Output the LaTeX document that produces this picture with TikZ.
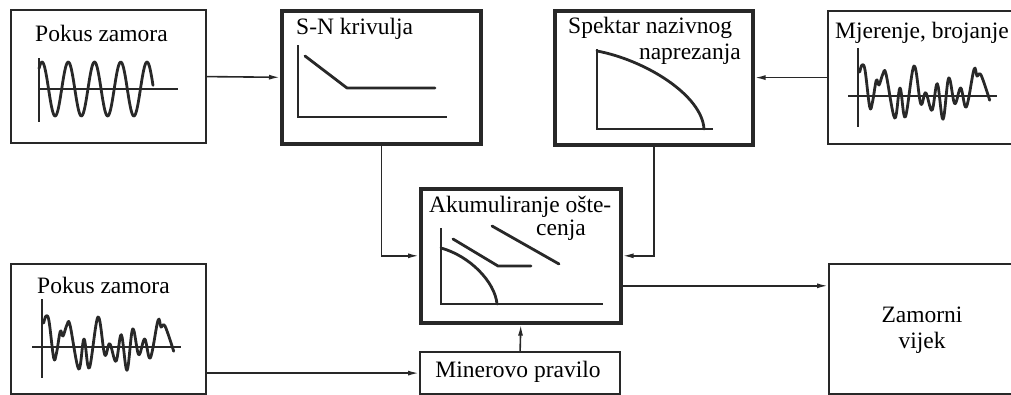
\documentclass[tikz,border=0pt]{standalone}
\usepackage{fontspec}
\setmainfont{Liberation Serif}
\usetikzlibrary{arrows.meta,calc}
\definecolor{ink}{RGB}{40,40,40}
\tikzset{
  boxthin/.style={draw=ink, line width=2.2pt, anchor=north west, inner sep=0pt},
  boxthick/.style={draw=ink, line width=3.6pt, anchor=north west, inner sep=0pt},
  lbl/.style={font=\fontsize{23.5}{27}\selectfont, inner sep=0pt, text=black},
  conn/.style={draw=ink, line width=1.6pt},
  arr/.style={conn, -{Latex[length=11pt,width=5pt]}},
  axis/.style={draw=ink, line width=1.8pt},
  curve/.style={draw=ink, line width=2.8pt, line join=round, line cap=round}
}
\begin{document}
\begin{tikzpicture}[x=1pt,y=-1pt]
\useasboundingbox (0,0) rectangle (1011,394);
\clip (0,0) rectangle (1011,394);
\fill[white] (0,0) rectangle (1011,394);
% boxes
\node[boxthin, minimum width=195pt, minimum height=133pt] (p1) at (10,9) {};
\node[boxthick, minimum width=199pt, minimum height=133pt] (sn) at (280,9) {};
\node[boxthick, minimum width=198pt, minimum height=134pt] (sp) at (553,9) {};
\node[boxthin, minimum width=210pt, minimum height=133pt] (mj) at (827,10) {};
\node[boxthick, minimum width=200pt, minimum height=134pt] (ak) at (419,187) {};
\node[boxthin, minimum width=200pt, minimum height=42pt] (mi) at (419,351) {};
\node[boxthin, minimum width=195pt, minimum height=130pt] (p2) at (10,263) {};
\node[boxthin, minimum width=210pt, minimum height=130pt] (zv) at (828,263) {};
% labels
\node[lbl, anchor=base west] (t1) at (35,41) {Pokus zamora};
\node[lbl, anchor=base west] (t2) at (296,34) {S-N krivulja};
\node[lbl, anchor=base west] (t3) at (568,33) {Spektar nazivnog};
\node[lbl, anchor=base east] (t3b) at (741,59) {naprezanja};
\node[lbl, anchor=base west] (t4) at (835,38) {Mjerenje, brojanje};
\node[lbl, anchor=base west] (t5) at (429,212) {Akumuliranje ošte-};
\node[lbl, anchor=base west] (t5b) at (536,235) {cenja};
\node[lbl, anchor=base] (t6) at (518,377) {Minerovo pravilo};
\node[lbl, anchor=base west] (t7) at (37,293) {Pokus zamora};
\node[lbl, anchor=base] (t8) at (922,322) {Zamorni};
\node[lbl, anchor=base] (t8b) at (922,348) {vijek};
% connectors
\draw[arr] (p1.east) -- (sn.west);
\draw[arr] (mj.west) -- (mj.west -| sp.east);
\draw[arr] (sn.south) |- (ak.west);
\draw[arr] (sp.south) |- (ak.east);
\coordinate (akout) at ([yshift=-30pt]ak.east);
\draw[arr] (akout) -- (akout -| zv.west);
\draw[arr] (mi.west -| p2.east) -- (mi.west);
\draw[arr] (mi.north) -- (ak.south);
% sine wave graph
\draw[axis] (39,58) -- (39,122);
\draw[axis] (39,89) -- (178,89);
\draw[curve] plot[domain=39:153, samples=160] (\x, {89 - 27*cos(13.714*(\x-42))});
% S-N graph
\draw[axis] (298,45) -- (298,117) -- (447,117);
\draw[curve] (305,56) -- (347,88) -- (435,88);
% spectrum graph
\draw[axis] (597,49) -- (597,129) -- (713,129);
\draw[curve] (597,51) .. controls (645,60) and (702,95) .. (704,129);
% random signal graphs
\foreach \ox/\oy in {858/96, 42/347} {
  \begin{scope}[shift={(\ox,\oy)}]
    \draw[axis] (0,-48) -- (0,31);
    \draw[axis] (-10,0) -- (139,0);
    \draw[curve] plot[smooth, tension=0.6] coordinates {
      (1.7,-24) (4,-31) (7,-26) (11.7,11) (14.5,6) (18.3,-15.7) (21,-11)
      (25,-22.3) (28,-22) (36.7,22) (42,-8) (47.3,21) (56,-30) (62.7,7.7)
      (67.7,-3.3) (74,14.3) (79.3,-12.3) (85,23.3) (90.7,-18) (96.7,7.7)
      (102.7,-8) (108.3,11) (116,-26.7) (119,-20) (123,-21) (131.7,4.3)};
  \end{scope}
}
% damage accumulation graph
\draw[axis] (441,228) -- (441,304) -- (603,304);
\draw[curve] (441,248) .. controls (470,256) and (495,282) .. (497,304);
\draw[curve] (453,239) -- (498,266) -- (531,266);
\draw[curve] (492,226) -- (559,264);
\end{tikzpicture}
\end{document}
